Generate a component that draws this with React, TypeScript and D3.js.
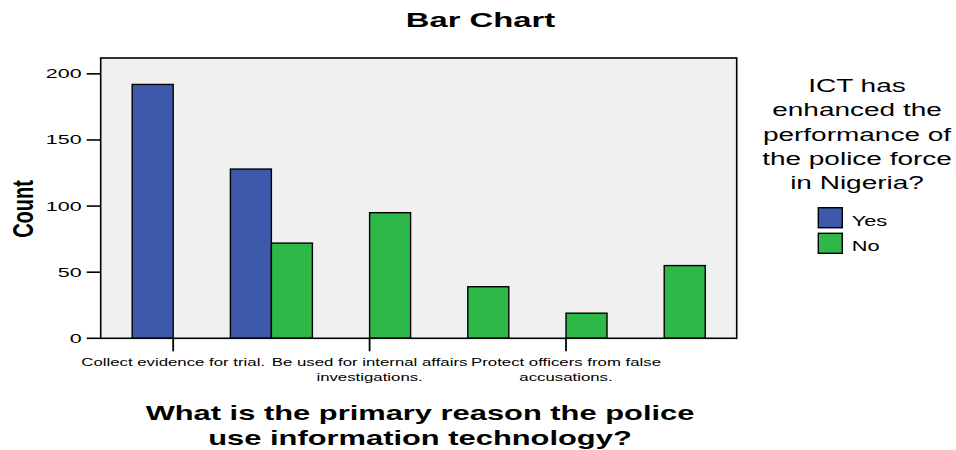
import React from "react";
import * as d3 from "d3";

const categories = ["c1", "c2", "c3", "c4", "c5", "c6"];
const tickLabels: (string[] | null)[] = [
  ["Collect evidence for trial."],
  null,
  ["Be used for internal affairs", "investigations."],
  null,
  ["Protect officers from false", "accusations."],
  null,
];
const yesValues = [192, 128, 0, 0, 0, 0];
const noValues = [0, 72, 95, 39, 19, 55];
const yTicks = [0, 50, 100, 150, 200];
const seriesNames = ["Yes", "No"];
const seriesColors = ["#3E58AC", "#2EB848"];
const legendTitle = ["ICT has", "enhanced the", "performance of", "the police force", "in Nigeria?"];
const chartTitle = "Bar Chart";
const xTitle = ["What is the primary reason the police", "use information technology?"];
const yTitle = "Count";

const W = 956;
const H = 450;
const plot = { left: 100.7, right: 736.7, top: 58, bottom: 338.3 };
const barW = 41;
const FONT = "'Liberation Sans', Arial, sans-serif";

function SText(props: {
  x: number; y: number; sx: number; size: number; anchor?: string; weight?: string; children: React.ReactNode;
}) {
  const { x, y, sx, size, anchor = "middle", weight = "normal", children } = props;
  return (
    <text
      transform={`translate(${x},${y}) scale(${sx},1)`}
      textAnchor={anchor}
      fontSize={size}
      fontWeight={weight}
      fontFamily={FONT}
      fill="#000"
    >
      {children}
    </text>
  );
}

export default function App() {
  const y = d3.scaleLinear().domain([0, 212]).range([plot.bottom, plot.top]);
  const x = d3.scalePoint<string>().domain(categories).range([plot.left, plot.right]).padding(0.738);

  const series = [yesValues, noValues];

  return (
    <svg width={W} height={H} style={{ position: "absolute", left: 0, top: 0, background: "#fff" }}>
      <SText x={480.5} y={26.7} sx={1.64} size={20} weight="bold">{chartTitle}</SText>

      <rect
        x={plot.left}
        y={plot.top}
        width={plot.right - plot.left}
        height={plot.bottom - plot.top}
        fill="#F0F0F0"
        stroke="none"
      />

      {series.map((vals, si) =>
        vals.map((v, i) => {
          if (!v) return null;
          const cx = x(categories[i])!;
          const bx = si === 0 ? cx - barW : cx;
          return (
            <rect
              key={`${si}-${i}`}
              x={bx}
              y={y(v)}
              width={barW}
              height={y(0) - y(v)}
              fill={seriesColors[si]}
              stroke="#000"
              strokeWidth={1.4}
            />
          );
        })
      )}

      <rect
        x={plot.left}
        y={plot.top}
        width={plot.right - plot.left}
        height={plot.bottom - plot.top}
        fill="none"
        stroke="#000"
        strokeWidth={1.6}
      />

      {yTicks.map((t) => (
        <g key={t}>
          <line x1={plot.left - 14} x2={plot.left} y1={y(t)} y2={y(t)} stroke="#000" strokeWidth={1.6} />
          <SText x={81.7} y={y(t) + 4.5} sx={1.72} size={12.5} anchor="end">{t}</SText>
        </g>
      ))}

      {categories.map((c, i) => {
        const lines = tickLabels[i];
        if (!lines) return null;
        const cx = x(c)!;
        return (
          <g key={c}>
            <line x1={cx} x2={cx} y1={plot.bottom} y2={plot.bottom + 13} stroke="#000" strokeWidth={1.8} />
            {lines.map((ln, li) => (
              <SText key={li} x={cx} y={365.5 + li * 15.5} sx={1.68} size={10}>{ln}</SText>
            ))}
          </g>
        );
      })}

      <text
        transform={`translate(33.3,209) rotate(-90) scale(1,1.52)`}
        textAnchor="middle"
        fontSize={20}
        fontWeight="bold"
        fontFamily={FONT}
      >
        {yTitle}
      </text>

      {xTitle.map((ln, li) => (
        <SText key={li} x={420} y={420 + li * 25} sx={1.47} size={21} weight="bold">{ln}</SText>
      ))}

      {legendTitle.map((ln, li) => (
        <SText key={li} x={857} y={91.7 + li * 24.4} sx={1.6} size={17.5}>{ln}</SText>
      ))}
      {seriesNames.map((n, si) => (
        <g key={n}>
          <rect x={818.3} y={207.7 + si * 25.6} width={24} height={20} fill={seriesColors[si]} stroke="#000" strokeWidth={1.4} />
          <SText x={851.7} y={225.7 + si * 25.4} sx={1.45} size={15} anchor="start">{n}</SText>
        </g>
      ))}
    </svg>
  );
}
